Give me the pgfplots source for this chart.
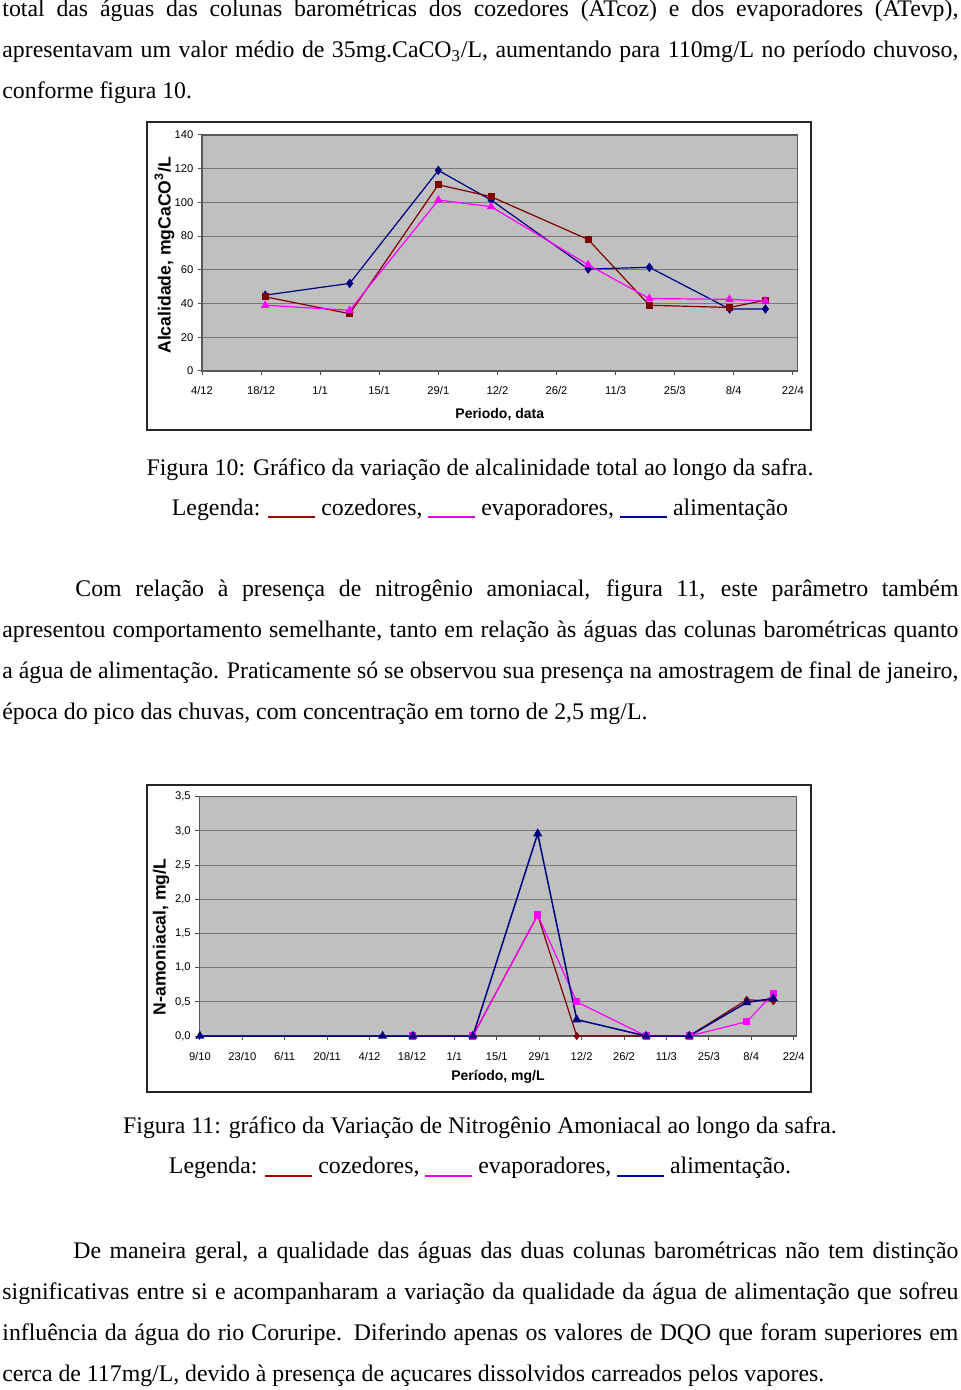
\documentclass[border=0pt]{standalone}
\usepackage{fontspec}
\setmainfont{Liberation Serif}
\newfontfamily\chartfont{Liberation Sans}
\usepackage{pgfplots}
\pgfplotsset{compat=1.18}
\definecolor{navyb}{RGB}{0,0,128}
\definecolor{dred}{RGB}{128,0,0}
\definecolor{mag}{RGB}{255,0,255}
\definecolor{plotbg}{RGB}{192,192,192}
\definecolor{gridc}{RGB}{120,120,120}
\definecolor{legred}{RGB}{170,0,0}
\definecolor{legmag}{RGB}{230,0,230}
\definecolor{legblue}{RGB}{0,0,170}
\pgfplotsset{
  excelstyle/.style={
    scale only axis,
    axis background/.style={fill=plotbg},
    axis line style={black!65, line width=0.6pt},
    ymajorgrids, grid style={gridc, line width=0.5pt},
    tick align=outside, major tick length=2pt,
    tick style={black!70, line width=0.5pt},
    xtick pos=bottom, ytick pos=left,
    tick label style={font=\chartfont\fontsize{5.6}{6.6}\selectfont},
    xticklabel style={yshift=-2pt},
    yticklabel style={xshift=1.2pt},
    /pgf/number format/assume math mode=true,
    label style={font=\chartfont\bfseries\fontsize{7}{8}\selectfont},
    clip=false,
  }
}
\newcommand\bodyfont{\fontsize{11.9}{14}\selectfont}
\newcommand\legline[1]{\textcolor{#1}{\rule[-1.4pt]{23.5pt}{0.9pt}}}
\begin{document}
\begin{tikzpicture}
\useasboundingbox (0,0) rectangle (480pt,-695pt);
\tikzset{bl/.style={anchor=base west, inner sep=0pt, font=\bodyfont},
         bc/.style={anchor=base, inner sep=0pt, font=\bodyfont}}
% paragraph 1
\node[bl] at (1pt,-8.5pt) {\makebox[478pt][s]{total das águas das colunas barométricas dos cozedores (ATcoz) e dos evaporadores (ATevp),}};
\node[bl] at (1pt,-28.9pt) {\makebox[478pt][s]{apresentavam um valor médio de 35mg.CaCO\textsubscript{3}/L, aumentando para 110mg/L no período chuvoso,}};
\node[bl] at (1pt,-49.3pt) {conforme figura 10.};
% chart 1 frame
\draw[black!85, line width=1pt] (73.5pt,-61pt) rectangle (405.5pt,-215pt);
\begin{axis}[excelstyle,
  at={(101pt,-185.5pt)}, anchor=south west,
  width=297.75pt, height=118pt,
  xmin=0, xmax=141.1, ymin=0, ymax=140,
  xtick={0,14,...,140},
  xticklabels={4/12,18/12,1/1,15/1,29/1,12/2,26/2,11/3,25/3,8/4,22/4},
  ytick={0,20,...,140},
  xlabel={Periodo, data},
  ylabel={Alcalidade, mgCaCO\textsuperscript{3}/L},
  xlabel style={at={(axis description cs:0.5,0)}, anchor=center, yshift=-22pt},
  ylabel style={at={(axis description cs:-0.063,0.49)}, anchor=center, font=\chartfont\bfseries\fontsize{8.8}{10}\selectfont},
]
\addplot[color=navyb, line width=0.6pt, mark=diamond*, mark size=1.9pt] coordinates {
(15,45) (35,52) (56,119) (68.5,101.4) (91.5,60.5) (106,61.5) (125,36.8) (133.5,36.8)};
\addplot[color=dred, line width=0.6pt, mark=square*, mark size=1.5pt] coordinates {
(15,44) (35,34) (56,110.5) (68.5,103.4) (91.5,78) (106,39) (125,37.7) (133.5,42)};
\addplot[color=mag, line width=0.6pt, mark=triangle*, mark size=1.9pt] coordinates {
(15,39) (35,36) (56,101.4) (68.5,97.5) (91.5,63) (106,43) (125,42.5) (133.5,41.5)};
\end{axis}
% caption 1
\node[bc] at (240pt,-237.5pt) {Figura 10: Gráfico da variação de alcalinidade total ao longo da safra.};
\node[bc] at (240pt,-257.6pt) {Legenda: \legline{legred} cozedores, \legline{legmag} evaporadores, \legline{legblue} alimentação};
% paragraph 2
\node[bl] at (37.5pt,-298.35pt) {\makebox[441.5pt][s]{Com relação à presença de nitrogênio amoniacal, figura 11, este parâmetro também}};
\node[bl] at (1pt,-318.75pt) {\makebox[478pt][s]{apresentou comportamento semelhante, tanto em relação às águas das colunas barométricas quanto}};
\node[bl] at (1pt,-339.15pt) {\makebox[478pt][s]{a água de alimentação. Praticamente só se observou sua presença na amostragem de final de janeiro,}};
\node[bl] at (1pt,-359.55pt) {época do pico das chuvas, com concentração em torno de 2,5 mg/L.};
% chart 2 frame
\draw[black!85, line width=1pt] (73.35pt,-392.5pt) rectangle (405.35pt,-545.85pt);
\begin{axis}[excelstyle,
  at={(99.65pt,-518pt)}, anchor=south west,
  width=298.7pt, height=119.65pt,
  xmin=-0.2, xmax=197, ymin=0, ymax=3.5,
  xtick={0,14,...,196},
  xticklabels={9/10,23/10,6/11,20/11,4/12,18/12,1/1,15/1,29/1,12/2,26/2,11/3,25/3,8/4,22/4},
  ytick={0,0.5,...,3.5},
  yticklabel style={/pgf/number format/.cd, fixed, fixed zerofill, precision=1, use comma},
  xticklabel style={yshift=-0.5pt},
  xlabel={Período, mg/L},
  ylabel={N-amoniacal, mg/L},
  xlabel style={at={(axis description cs:0.5,0)}, anchor=center, yshift=-20.5pt},
  ylabel style={at={(axis description cs:-0.064,0.414)}, anchor=center, font=\chartfont\bfseries\fontsize{8.8}{10}\selectfont},
]
\addplot[color=dred, line width=0.6pt, mark=diamond*, mark size=1.6pt] coordinates {
(70.3,0) (90.1,0) (111.5,1.77) (124.4,0) (147.3,0) (161.5,0) (180.5,0.53) (189.3,0.51)};
\addplot[color=mag, line width=0.6pt, mark=square*, mark size=1.5pt] coordinates {
(70.3,0) (90.1,0) (111.5,1.77) (124.4,0.50) (147.3,0) (161.5,0) (180.5,0.21) (189.3,0.62)};
\addplot[color=navyb, line width=0.75pt, mark=triangle*, mark size=1.9pt] coordinates {
(0,0) (60.3,0) (70.3,0) (90.1,0) (111.5,2.96) (124.4,0.24) (147.3,0) (161.5,0) (180.5,0.49) (189.3,0.55)};
\end{axis}
% caption 2
\node[bc] at (240pt,-566.5pt) {Figura 11: gráfico da Variação de Nitrogênio Amoniacal ao longo da safra.};
\node[bc] at (240pt,-586.9pt) {Legenda: \legline{legred} cozedores, \legline{legmag} evaporadores, \legline{legblue} alimentação.};
% paragraph 3
\node[bl] at (36.5pt,-629.25pt) {\makebox[442.5pt][s]{De maneira geral, a qualidade das águas das duas colunas barométricas não tem distinção}};
\node[bl] at (1pt,-649.65pt) {\makebox[478pt][s]{significativas entre si e acompanharam a variação da qualidade da água de alimentação que sofreu}};
\node[bl] at (1pt,-670.05pt) {\makebox[478pt][s]{influência da água do rio Coruripe. Diferindo apenas os valores de DQO que foram superiores em}};
\node[bl] at (1pt,-690.5pt) {cerca de 117mg/L, devido à presença de açucares dissolvidos carreados pelos vapores.};
\end{tikzpicture}
\end{document}
